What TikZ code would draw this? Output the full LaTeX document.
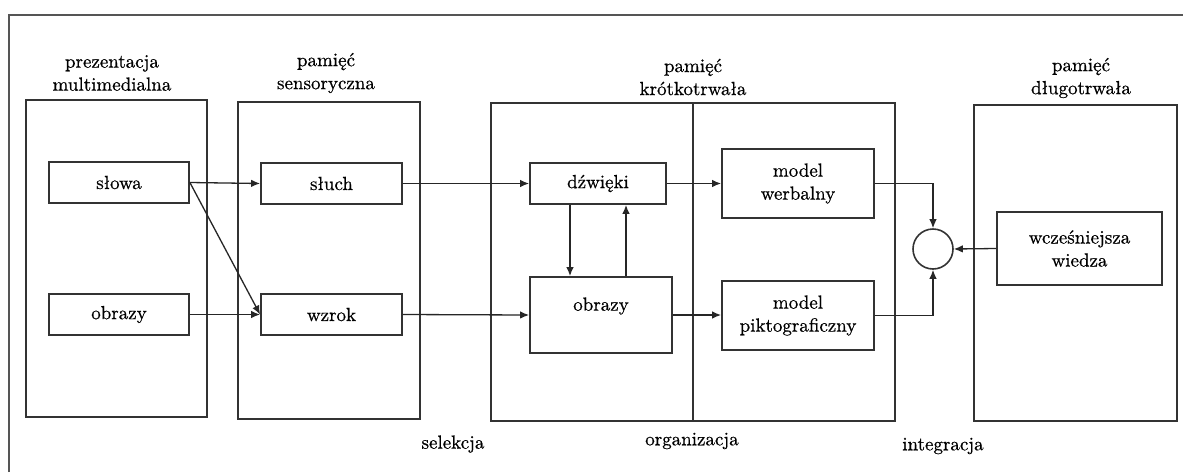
\documentclass[tikz,border=0pt]{standalone}
\usepackage{fontspec}
\newfontfamily\labelface{lmroman10-regular.otf}[FakeBold=0.6]
\usetikzlibrary{arrows.meta}
\definecolor{frame}{HTML}{555555}
\definecolor{edge}{HTML}{333333}
\definecolor{link}{HTML}{262626}
\begin{document}
\begin{tikzpicture}[x=1pt,y=-1pt,
  every node/.style={font=\labelface\fontsize{19}{23}\selectfont},
  stage/.style={draw=edge,line width=2pt,rectangle,inner sep=0pt},
  unit/.style={draw=edge,line width=1.8pt,rectangle,inner sep=0pt,align=center},
  title/.style={align=center,inner sep=0pt},
  arr/.style={draw=link,line width=1.3pt,-{Latex[length=9pt,width=7.5pt]}}]
\useasboundingbox[fill=white] (0,0) rectangle (1183,472);
% outer frame: top and left edges only
\draw[frame,line width=2pt] (9,472) -- (9,15) -- (1183,15);

% stages
\node[stage,minimum width=181pt,minimum height=317pt] (P) at (116.5,258.5) {};
\node[stage,minimum width=182pt,minimum height=317pt] (S) at (329,260.5) {};
\node[stage,minimum width=404pt,minimum height=318pt] (K) at (693,262) {};
\node[stage,minimum width=203pt,minimum height=316pt] (D) at (1075.5,263) {};
\draw[edge,line width=1.6pt] (K.north) -- (K.south);

% stage titles
\node[title] (tP) at (112,73) {prezentacja\\multimedialna};
\node[title] (tS) at (326,73) {pamięć\\sensoryczna};
\node[title] (tK) at (693,77) {pamięć\\krótkotrwała};
\node[title] (tD) at (1081,78) {pamięć\\długotrwała};

% inner units
\node[unit,minimum width=140pt,minimum height=41pt] (slowa) at (119,182.5) {słowa};
\node[unit,minimum width=140pt,minimum height=41pt] (obrazyA) at (119,314.5) {obrazy};
\node[unit,minimum width=141pt,minimum height=41pt] (sluch) at (331.5,183.5) {słuch};
\node[unit,minimum width=141pt,minimum height=41pt] (wzrok) at (331.5,314.5) {wzrok};
\node[unit,minimum width=136pt,minimum height=41pt] (dzwieki) at (598,183.5) {dźwięki};
\node[unit,minimum width=142pt,minimum height=76pt] (obrazyB) at (601,315) {};
\node[inner sep=0pt] (obrazyBt) at (601,306) {obrazy};
\node[unit,minimum width=152pt,minimum height=69pt] (werbalny) at (798,183.5) {model\\werbalny};
\node[unit,minimum width=152pt,minimum height=69pt] (pikto) at (798,315.5) {model\\piktograficzny};
\node[draw=edge,line width=1.6pt,circle,minimum size=40pt,inner sep=0pt] (c) at (933,249) {};
\node[unit,minimum width=165pt,minimum height=73pt] (wiedza) at (1079.5,248.5) {wcześniejsza\\wiedza};

% process labels
\node (sel) at (453,444) {selekcja};
\node (org) at (692,441) {organizacja};
\node (int) at (943,446) {integracja};

% connectors
\draw[arr] (slowa.east) -- (sluch.west);
\draw[arr] (slowa.east) -- (wzrok.west);
\draw[arr] (obrazyA.east) -- (wzrok.west);
\draw[arr] (sluch.east) -- (dzwieki.west);
\draw[arr] (wzrok.east) -- (obrazyB.west);
\draw[arr] ([xshift=-28pt]dzwieki.south) -- ([xshift=-28pt]dzwieki.south |- obrazyB.north);
\draw[arr] ([xshift=25pt]obrazyB.north) -- ([xshift=25pt]obrazyB.north |- dzwieki.south);
\draw[arr] (dzwieki.east) -- (dzwieki.east -| werbalny.west);
\draw[arr] (obrazyB.east) -- (obrazyB.east -| pikto.west);
\draw[arr] (werbalny.east) -| (c.north);
\draw[arr] (pikto.east) -| (c.south);
\draw[arr] (wiedza.west) -- (c.east);
\end{tikzpicture}
\end{document}
